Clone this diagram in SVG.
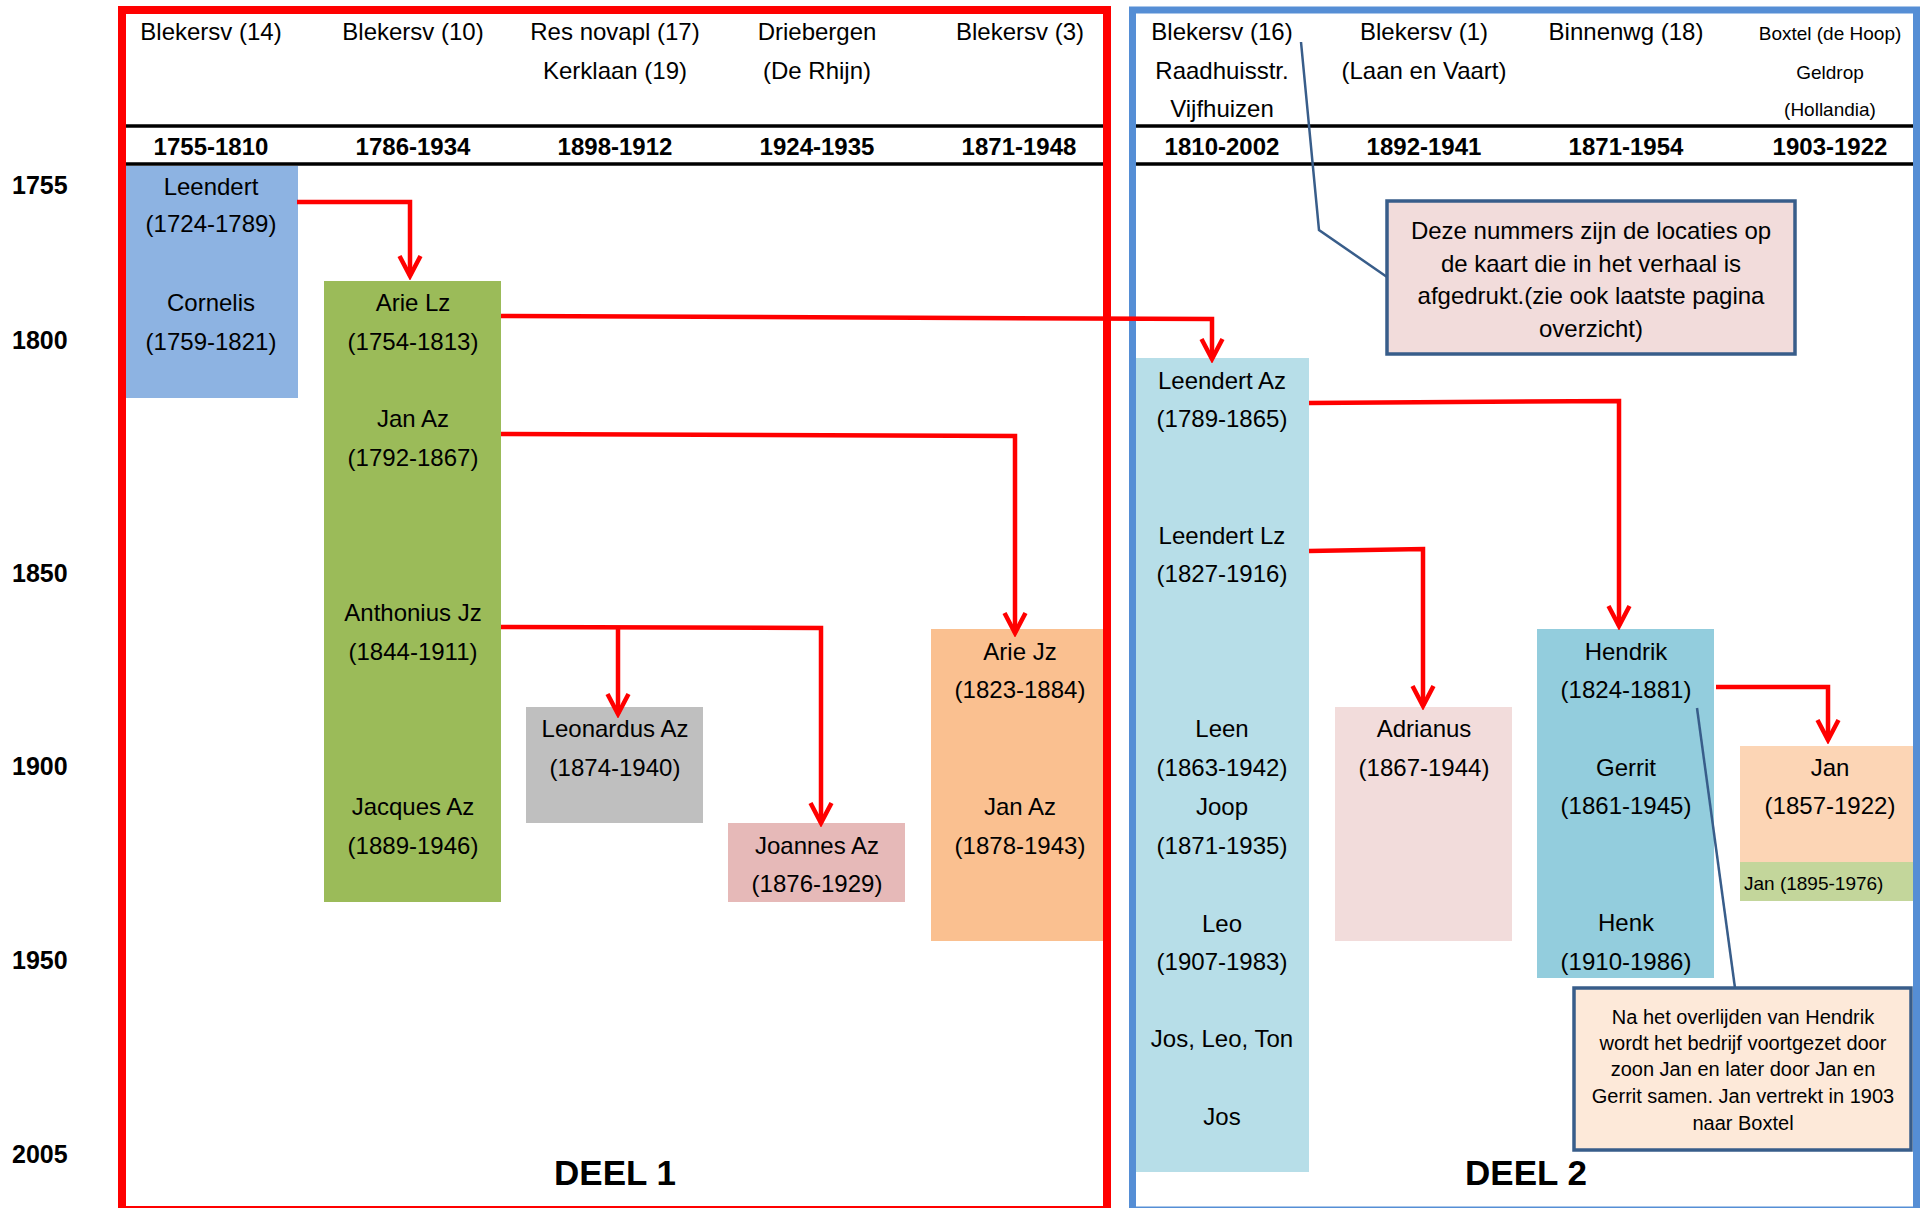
<svg xmlns="http://www.w3.org/2000/svg" width="1920" height="1208" viewBox="0 0 1920 1208">
<style>
text{font-family:"Liberation Sans",Arial,sans-serif;fill:#000;dominant-baseline:central;text-anchor:middle}
.t{font-size:24px}
.s{font-size:19px}
.b{font-size:24px;font-weight:bold}
.yr{font-size:25px;font-weight:bold;text-anchor:start}
.deel{font-size:35px;font-weight:bold}
.co{font-size:24px}
.co2{font-size:20px}
.hl{stroke:#000;stroke-width:3.5}
.con{fill:none;stroke:#FF0000;stroke-width:4.5;stroke-linejoin:miter}
.ptr{fill:none;stroke:#385D8A;stroke-width:2.5}
.callbox{stroke:#385D8A;stroke-width:3.5}
</style>
<defs>
<marker id="arr" markerUnits="userSpaceOnUse" viewBox="-26 -15 30 30" markerWidth="30" markerHeight="30" refX="0" refY="0" orient="auto">
<path d="M-20,-10.5 L0,0 L-20,10.5" fill="none" stroke="#FF0000" stroke-width="4.5"/>
</marker>
</defs>
<rect width="1920" height="1208" fill="#fff"/>

<g id="axis">
<text class="yr" x="12" y="185">1755</text>
<text class="yr" x="12" y="340">1800</text>
<text class="yr" x="12" y="573">1850</text>
<text class="yr" x="12" y="766">1900</text>
<text class="yr" x="12" y="960">1950</text>
<text class="yr" x="12" y="1154">2005</text>
</g>

<g id="header-deel1">
<text class="t" x="211" y="31">Blekersv (14)</text>
<text class="t" x="413" y="31">Blekersv (10)</text>
<text class="t" x="615" y="31">Res novapl (17)</text>
<text class="t" x="615" y="70">Kerklaan (19)</text>
<text class="t" x="817" y="31">Driebergen</text>
<text class="t" x="817" y="70">(De Rhijn)</text>
<text class="t" x="1020" y="31">Blekersv (3)</text>
<line class="hl" x1="126" y1="126" x2="1103" y2="126"/>
<line class="hl" x1="126" y1="164" x2="1103" y2="164"/>
<text class="b" x="211" y="146">1755-1810</text>
<text class="b" x="413" y="146">1786-1934</text>
<text class="b" x="615" y="146">1898-1912</text>
<text class="b" x="817" y="146">1924-1935</text>
<text class="b" x="1019" y="146">1871-1948</text>
</g>

<g id="header-deel2">
<text class="t" x="1222" y="31">Blekersv (16)</text>
<text class="t" x="1222" y="70">Raadhuisstr.</text>
<text class="t" x="1222" y="108">Vijfhuizen</text>
<text class="t" x="1424" y="31">Blekersv (1)</text>
<text class="t" x="1424" y="70">(Laan en Vaart)</text>
<text class="t" x="1626" y="31">Binnenwg (18)</text>
<text class="s" x="1830" y="33">Boxtel (de Hoop)</text>
<text class="s" x="1830" y="72">Geldrop</text>
<text class="s" x="1830" y="109">(Hollandia)</text>
<line class="hl" x1="1136" y1="126" x2="1916" y2="126"/>
<line class="hl" x1="1136" y1="164" x2="1916" y2="164"/>
<text class="b" x="1222" y="146">1810-2002</text>
<text class="b" x="1424" y="146">1892-1941</text>
<text class="b" x="1626" y="146">1871-1954</text>
<text class="b" x="1830" y="146">1903-1922</text>
</g>

<g id="node-leendert-cornelis">
<rect x="126" y="166" width="172" height="232" fill="#8DB3E2"/>
<text class="t" x="211" y="186">Leendert</text>
<text class="t" x="211" y="223">(1724-1789)</text>
<text class="t" x="211" y="302">Cornelis</text>
<text class="t" x="211" y="341">(1759-1821)</text>
</g>

<g id="node-arie-lz">
<rect x="324" y="281" width="177" height="621" fill="#9BBB59"/>
<text class="t" x="413" y="302">Arie Lz</text>
<text class="t" x="413" y="341">(1754-1813)</text>
<text class="t" x="413" y="418">Jan Az</text>
<text class="t" x="413" y="457">(1792-1867)</text>
<text class="t" x="413" y="612">Anthonius Jz</text>
<text class="t" x="413" y="651">(1844-1911)</text>
<text class="t" x="413" y="806">Jacques Az</text>
<text class="t" x="413" y="845">(1889-1946)</text>
</g>

<g id="node-leonardus">
<rect x="526" y="707" width="177" height="116" fill="#BFBFBF"/>
<text class="t" x="615" y="728">Leonardus Az</text>
<text class="t" x="615" y="767">(1874-1940)</text>
</g>

<g id="node-joannes">
<rect x="728" y="823" width="177" height="79" fill="#E6B9B8"/>
<text class="t" x="817" y="845">Joannes Az</text>
<text class="t" x="817" y="883">(1876-1929)</text>
</g>

<g id="node-arie-jz">
<rect x="931" y="629" width="172" height="312" fill="#FAC090"/>
<text class="t" x="1020" y="651">Arie Jz</text>
<text class="t" x="1020" y="689">(1823-1884)</text>
<text class="t" x="1020" y="806">Jan Az</text>
<text class="t" x="1020" y="845">(1878-1943)</text>
</g>

<g id="node-leendert-az">
<rect x="1136" y="358" width="173" height="814" fill="#B7DEE8"/>
<text class="t" x="1222" y="380">Leendert Az</text>
<text class="t" x="1222" y="418">(1789-1865)</text>
<text class="t" x="1222" y="535">Leendert Lz</text>
<text class="t" x="1222" y="573">(1827-1916)</text>
<text class="t" x="1222" y="728">Leen</text>
<text class="t" x="1222" y="767">(1863-1942)</text>
<text class="t" x="1222" y="806">Joop</text>
<text class="t" x="1222" y="845">(1871-1935)</text>
<text class="t" x="1222" y="923">Leo</text>
<text class="t" x="1222" y="961">(1907-1983)</text>
<text class="t" x="1222" y="1038">Jos, Leo, Ton</text>
<text class="t" x="1222" y="1116">Jos</text>
</g>

<g id="node-adrianus">
<rect x="1335" y="707" width="177" height="234" fill="#F2DCDB"/>
<text class="t" x="1424" y="728">Adrianus</text>
<text class="t" x="1424" y="767">(1867-1944)</text>
</g>

<g id="node-hendrik">
<rect x="1537" y="629" width="177" height="349" fill="#93CDDD"/>
<text class="t" x="1626" y="651">Hendrik</text>
<text class="t" x="1626" y="689">(1824-1881)</text>
<text class="t" x="1626" y="767">Gerrit</text>
<text class="t" x="1626" y="805">(1861-1945)</text>
<text class="t" x="1626" y="922">Henk</text>
<text class="t" x="1626" y="961">(1910-1986)</text>
</g>

<g id="node-jan-boxtel">
<rect x="1740" y="746" width="176" height="116" fill="#FCD5B5"/>
<text class="t" x="1830" y="767">Jan</text>
<text class="t" x="1830" y="805">(1857-1922)</text>
</g>

<g id="node-jan-1895">
<rect x="1740" y="862" width="176" height="39" fill="#C3D69B"/>
<text class="s" x="1744" y="883" style="text-anchor:start">Jan (1895-1976)</text>
</g>

<g id="frames">
<rect x="122" y="10" width="985" height="1200" fill="none" stroke="#FF0000" stroke-width="8"/>
<rect x="1132.5" y="10" width="784" height="1200" fill="none" stroke="#558ED5" stroke-width="7"/>
<text class="deel" x="615" y="1172">DEEL 1</text>
<text class="deel" x="1526" y="1172">DEEL 2</text>
</g>

<g id="connectors">
<path class="con" d="M297,202 H410 V276" marker-end="url(#arr)"/>
<path class="con" d="M501,316 L1212,319 V359" marker-end="url(#arr)"/>
<path class="con" d="M501,434 L1015,436 V633" marker-end="url(#arr)"/>
<path class="con" d="M501,627 L821,628 V823" marker-end="url(#arr)"/>
<path class="con" d="M618,627 V714" marker-end="url(#arr)"/>
<path class="con" d="M1309,403 L1619,401 V626" marker-end="url(#arr)"/>
<path class="con" d="M1309,551 L1423,549 V706" marker-end="url(#arr)"/>
<path class="con" d="M1716,687 H1828 V740" marker-end="url(#arr)"/>
</g>

<g id="callout-nummers">
<polyline class="ptr" points="1387,277 1319,230 1301,42"/>
<rect class="callbox" x="1387" y="201" width="408" height="153" fill="#F2DCDB"/>
<text class="co" x="1591" y="230">Deze nummers zijn de locaties op</text>
<text class="co" x="1591" y="263">de kaart die in het verhaal is</text>
<text class="co" x="1591" y="295">afgedrukt.(zie ook laatste pagina</text>
<text class="co" x="1591" y="328">overzicht)</text>
</g>

<g id="callout-hendrik">
<line class="ptr" x1="1735" y1="988" x2="1697" y2="708"/>
<rect class="callbox" x="1574" y="988" width="337" height="162" fill="#FDE9D9"/>
<text class="co2" x="1743" y="1017">Na het overlijden van Hendrik</text>
<text class="co2" x="1743" y="1043">wordt het bedrijf voortgezet door</text>
<text class="co2" x="1743" y="1069">zoon Jan en later door Jan en</text>
<text class="co2" x="1743" y="1096">Gerrit samen. Jan vertrekt in 1903</text>
<text class="co2" x="1743" y="1123">naar Boxtel</text>
</g>
</svg>
